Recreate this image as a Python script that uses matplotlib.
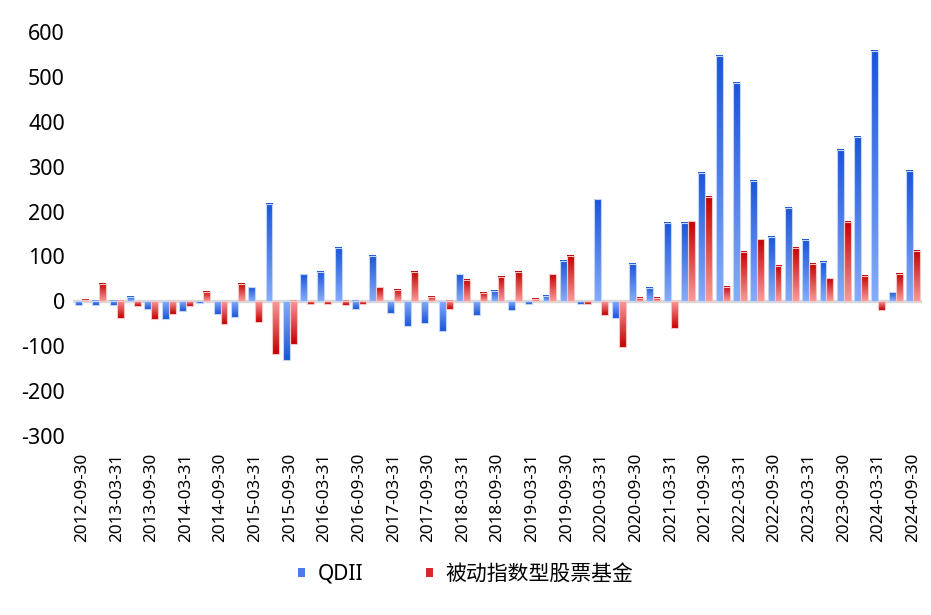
import numpy as np
import pandas as pd
import matplotlib
matplotlib.use("Agg")
import matplotlib.pyplot as plt
from matplotlib.colors import LinearSegmentedColormap
from matplotlib.patches import Patch

plt.rcParams['font.family'] = ['Noto Sans', 'Noto Sans CJK SC', 'DejaVu Sans']
plt.rcParams['axes.unicode_minus'] = False

# quarterly dates 2012-09-30 .. 2024-09-30
dates = pd.date_range("2012-09-30", "2024-09-30", freq="QE").strftime("%Y-%m-%d").tolist()

qdii = [-8, -9, -9, 9, -16, -40, -22, -4, -28, -34,
        31, 217, -130, 60, 66, 119, -18, 102, -25, -54,
        -48, -66, 60, -30, 24, -19, -6, 12, 90, -6,
        227, -36, 84, 30, 174, 174, 287, 546, 487, 269,
        143, 209, 137, 87, 337, 367, 557, 20, 290]
passive = [3, 38, -38, -10, -40, -28, -10, 21, -51, 38,
           -46, -118, -96, -5, -5, -9, -5, 31, 25, 66,
           9, -18, 48, 18, 54, 66, 6, 60, 101, -5,
           -31, -101, 7, 7, -60, 178, 233, 33, 111, 138,
           78, 119, 84, 51, 176, 57, -20, 62, 112]

series_names = ["QDII", "被动指数型股票基金"]

blue_cmap = LinearSegmentedColormap.from_list("b", ["#86acf9", "#1a55d8"])
red_cmap = LinearSegmentedColormap.from_list("r", ["#f99a9a", "#c40000"])

fig = plt.figure(figsize=(9.31, 6.15), dpi=100)
ax = fig.add_axes([0.0788, 0.291, 0.9112, 0.657])

x = np.arange(len(dates))
w = 0.4
grad = np.linspace(0, 1, 256).reshape(-1, 1)


def gradient_bars(xpos, vals, cmap, edge):
    bars = ax.bar(xpos, vals, width=w, facecolor="none", edgecolor=edge,
                  linewidth=0.8, zorder=3)
    for b, v in zip(bars, vals):
        x0 = b.get_x()
        ax.imshow(grad, extent=[x0, x0 + b.get_width(), 0, v], origin="lower",
                  aspect="auto", cmap=cmap, zorder=2, interpolation="bilinear")
    return bars


ax.axhline(0, color="#d9d9d9", lw=2.5, zorder=1)
gradient_bars(x - w / 2, qdii, blue_cmap, "#c3d5f7")
gradient_bars(x + w / 2, passive, red_cmap, "#f7c4c4")

ax.set_xlim(-0.5, len(dates) - 0.5)
ax.set_ylim(-300, 600)
ax.set_yticks(range(-300, 601, 100))
ax.tick_params(axis="y", labelsize=15.5, length=0, pad=6)
ax.set_xticks(x[::2])
ax.set_xticklabels(dates[::2], rotation=90, fontsize=12.3)
ax.tick_params(axis="x", length=0, pad=12)
for s in ax.spines.values():
    s.set_visible(False)

handles = [Patch(facecolor="#4a7de8", edgecolor="none"),
           Patch(facecolor="#d62a2a", edgecolor="none")]
fig.legend(handles, series_names, loc="center", bbox_to_anchor=(0.5, 0.066),
           ncol=2, frameon=False, fontsize=15, handlelength=0.35,
           handleheight=0.35, handletextpad=0.6, columnspacing=3.0)

fig.savefig("out.png", dpi=100)
